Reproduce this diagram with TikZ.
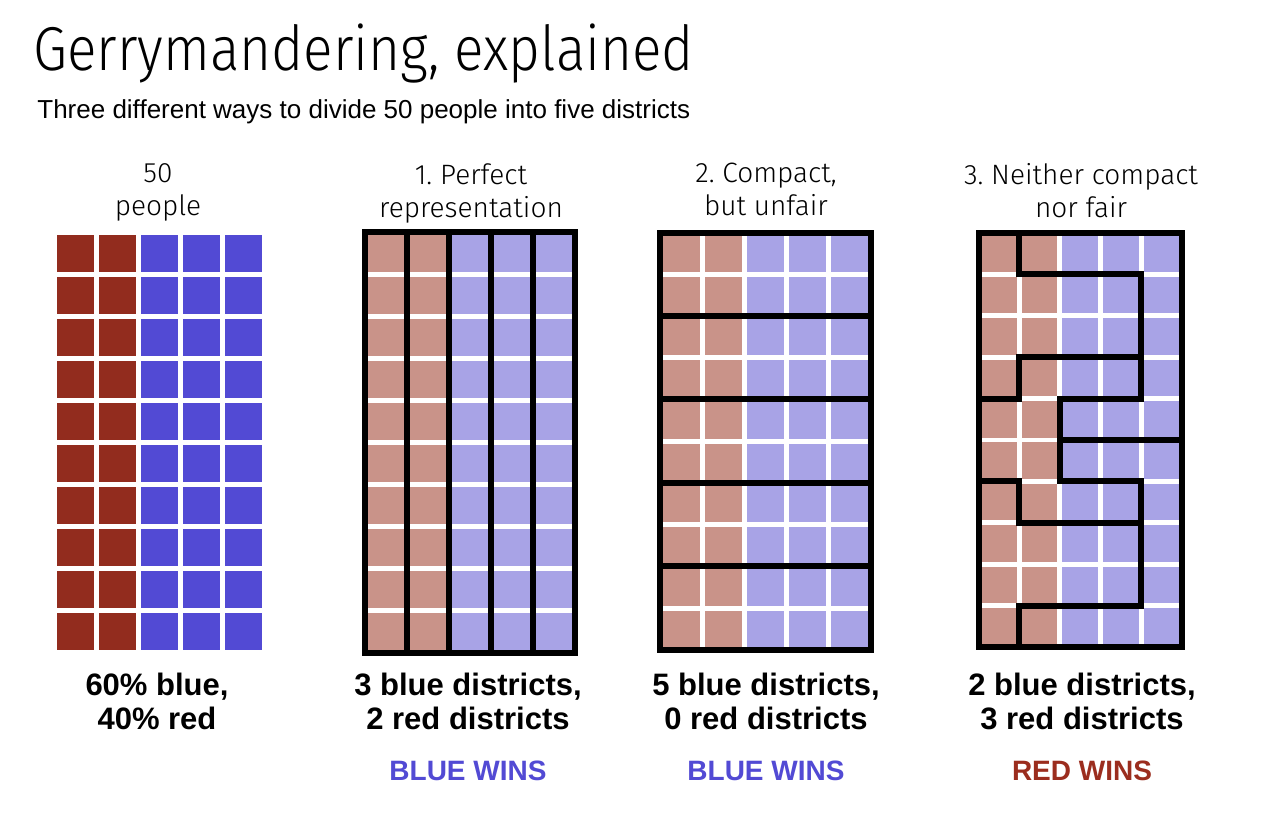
\documentclass[tikz,border=0pt]{standalone}
\usepackage{fontspec}
\setmainfont{Liberation Sans}
\IfFontExistsTF{Fira Sans Light}{%
  \newfontfamily\titlefont[FakeStretch=0.885]{Fira Sans Light}%
}{%
  \newfontfamily\titlefont[FakeStretch=0.9]{Liberation Sans}%
}
\IfFontExistsTF{Fira Sans Book}{%
  \newfontfamily\headfont{Fira Sans Book}%
}{%
  \IfFontExistsTF{Fira Sans Light}{\newfontfamily\headfont{Fira Sans Light}}{\newfontfamily\headfont{Liberation Sans}}%
}
\definecolor{dred}{RGB}{146,44,30}
\definecolor{dblue}{RGB}{82,74,212}
\definecolor{lred}{RGB}{201,147,137}
\definecolor{lblue}{RGB}{168,163,230}
\definecolor{redtxt}{RGB}{155,45,30}
\frenchspacing
\begin{document}
\begin{tikzpicture}[x=0.5pt,y=-0.5pt]
\tikzset{
  district/.style={line width=3pt, line join=miter, line cap=rect},
  head/.style={font=\headfont\fontsize{14}{16.5}\selectfont, align=center, anchor=north, inner sep=0pt},
  result/.style={font=\bfseries\fontsize{15.5}{17}\selectfont, align=center, anchor=north, inner sep=0pt},
  verdict/.style={font=\bfseries\fontsize{14}{16}\selectfont, anchor=base, inner sep=0pt},
}
\useasboundingbox[fill=white] (0,0) rectangle (1264,816);

% titles
\node[anchor=base west, inner sep=0pt, font=\titlefont\fontsize{31}{33}\selectfont] (title) at (33,70) {Gerrymandering, explained};
\node[anchor=base west, inner sep=0pt, font=\fontsize{13}{15}\selectfont] (subtitle) at (37,118) {Three different ways to divide 50 people into five districts};

% panel 1: plain population
\begin{scope}[shift={(54.5,232.5)}, x=21pt, y=-21pt]
  \foreach \c in {0,...,4}{\foreach \r in {0,...,9}{
    \ifnum\c<2 \def\cc{dred}\else\def\cc{dblue}\fi
    \fill[\cc] (\c+0.06,\r+0.06) rectangle (\c+0.94,\r+0.94);
  }}
\end{scope}

% panel 2: perfect representation
\begin{scope}[shift={(365,232)}, x=21pt, y=-21.05pt]
  \foreach \c in {0,...,4}{\foreach \r in {0,...,9}{
    \ifnum\c<2 \def\cc{lred}\else\def\cc{lblue}\fi
    \fill[\cc] (\c+0.06,\r+0.06) rectangle (\c+0.94,\r+0.94);
  }}
  \foreach \c in {1,...,4}{\draw[district] (\c,0) -- (\c,10);}
  \draw[district] (0,0) rectangle (5,10);
\end{scope}

% panel 3: compact but unfair
\begin{scope}[shift={(660,232.5)}, x=21.1pt, y=-20.87pt]
  \foreach \c in {0,...,4}{\foreach \r in {0,...,9}{
    \ifnum\c<2 \def\cc{lred}\else\def\cc{lblue}\fi
    \fill[\cc] (\c+0.06,\r+0.06) rectangle (\c+0.94,\r+0.94);
  }}
  \foreach \r in {2,4,6,8}{\draw[district] (0,\r) -- (5,\r);}
  \draw[district] (0,0) rectangle (5,10);
\end{scope}

% panel 4: neither compact nor fair
\begin{scope}[shift={(978.5,233)}, x=20.35pt, y=-20.7pt]
  \foreach \c in {0,...,4}{\foreach \r in {0,...,9}{
    \ifnum\c<2 \def\cc{lred}\else\def\cc{lblue}\fi
    \fill[\cc] (\c+0.06,\r+0.06) rectangle (\c+0.94,\r+0.94);
  }}
  \draw[district] (1,0) -- (1,1) -- (4,1) -- (4,4) -- (2,4) -- (2,6) -- (4,6) -- (4,9) -- (1,9) -- (1,10);
  \draw[district] (4,3) -- (1,3) -- (1,4) -- (0,4);
  \draw[district] (2,5) -- (5,5);
  \draw[district] (0,6) -- (1,6) -- (1,7) -- (4,7);
  \draw[district] (0,0) rectangle (5,10);
\end{scope}

% headers
\node[head] (h1) at (158,163) {50\\people};
\node[head] (h2) at (471,163) {1. Perfect\\representation};
\node[head] (h3) at (766,163) {2. Compact,\\but unfair};
\node[head] (h4) at (1081,163) {3. Neither compact\\nor fair};

% results
\node[result] (r1) at (157,673) {60\% blue,\\40\% red};
\node[result] (r2) at (468,673) {3 blue districts,\\2 red districts};
\node[result] (r3) at (766,673) {5 blue districts,\\0 red districts};
\node[result] (r4) at (1082,673) {2 blue districts,\\3 red districts};

% verdicts
\node[verdict, text=dblue] (w2) at (468,780) {BLUE WINS};
\node[verdict, text=dblue] (w3) at (766,780) {BLUE WINS};
\node[verdict, text=redtxt] (w4) at (1082,780) {RED WINS};
\end{tikzpicture}
\end{document}
